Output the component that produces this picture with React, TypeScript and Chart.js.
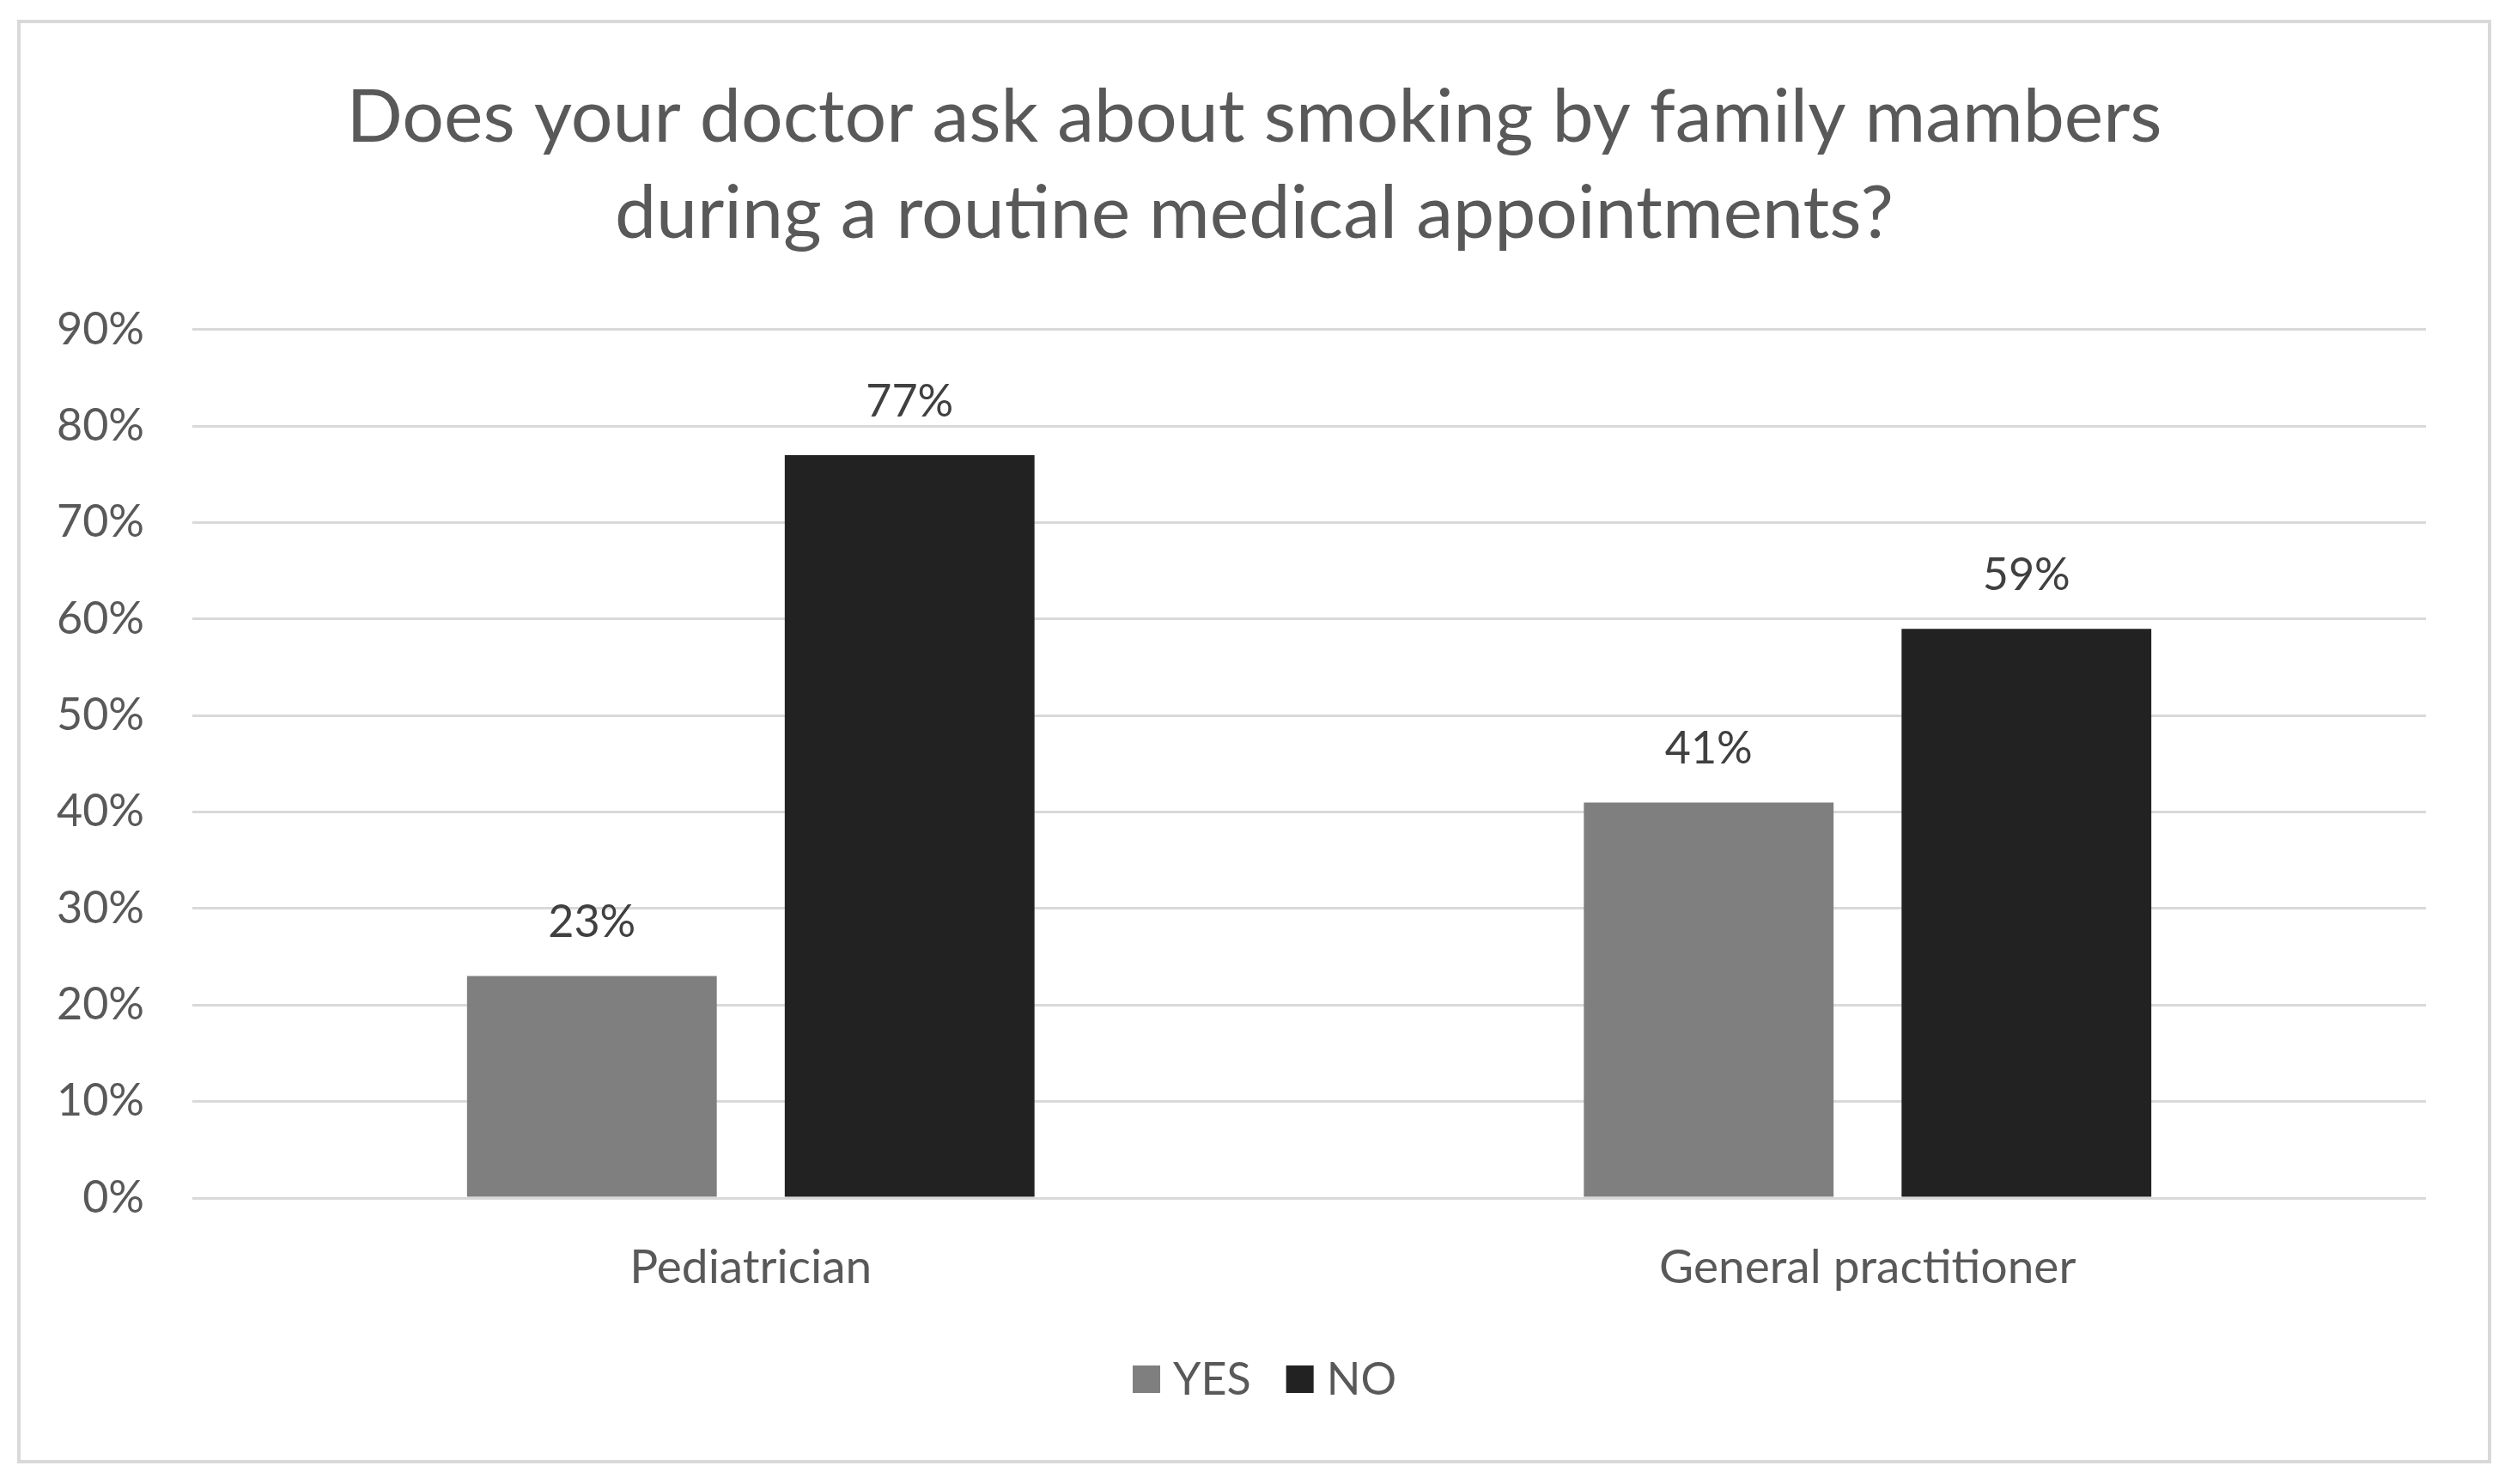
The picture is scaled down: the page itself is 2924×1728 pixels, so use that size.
import React, { useEffect, useRef } from "react";
import { Chart, registerables } from "chart.js";

Chart.register(...registerables);

const titleLines = [
  "Does your doctor ask about smoking by family mambers",
  "during a routine medical appointments?",
];
const categories = ["Pediatrician", "General practitioner"];
const seriesNames = ["YES", "NO"];
const yesValues = [23, 41];
const noValues = [77, 59];
const seriesColors = ["#7f7f7f", "#222222"];
const yMax = 90;
const yStep = 10;

const FONT = "Lato";
const TEXT_GREY = "#595959";

const dataLabelPlugin = {
  id: "barValueLabels",
  afterDatasetsDraw(chart: any) {
    const ctx = chart.ctx;
    ctx.save();
    ctx.font = `52px ${FONT}`;
    ctx.fillStyle = "#404040";
    ctx.textAlign = "center";
    ctx.textBaseline = "middle";
    chart.data.datasets.forEach((ds: any, i: number) => {
      const meta = chart.getDatasetMeta(i);
      meta.data.forEach((bar: any, j: number) => {
        ctx.fillText(`${ds.data[j]}%`, bar.x, bar.y - 62);
      });
    });
    ctx.restore();
  },
};

// Bottom legend drawn from the datasets (Excel-like spacing)
const legendPlugin = {
  id: "excelLegend",
  afterDraw(chart: any) {
    const ctx = chart.ctx;
    const box = 32;
    const gapBoxText = 15;
    const gapItems = 41;
    ctx.save();
    ctx.font = `52px ${FONT}`;
    ctx.textBaseline = "middle";
    ctx.textAlign = "left";
    const items = chart.data.datasets.map((ds: any) => ({
      text: ds.label,
      color: ds.backgroundColor,
      w: ctx.measureText(ds.label).width,
    }));
    let total = 0;
    items.forEach((it: any, i: number) => {
      total += box + gapBoxText + it.w + (i > 0 ? gapItems : 0);
    });
    const cy = chart.chartArea.bottom + 212;
    let x = chart.width / 2 + 12 - total / 2;
    items.forEach((it: any) => {
      ctx.fillStyle = it.color;
      ctx.fillRect(x, cy - box / 2 - 1, box, box);
      x += box + gapBoxText;
      ctx.fillStyle = TEXT_GREY;
      ctx.fillText(it.text, x, cy);
      x += it.w + gapItems;
    });
    ctx.restore();
  },
};

export default function App() {
  const canvasRef = useRef<HTMLCanvasElement | null>(null);

  useEffect(() => {
    if (!canvasRef.current) return;
    const chart = new Chart(canvasRef.current, {
      type: "bar",
      data: {
        labels: categories,
        datasets: [
          {
            label: seriesNames[0],
            data: yesValues,
            backgroundColor: seriesColors[0],
            borderWidth: 0,
            categoryPercentage: 0.569,
            barPercentage: 0.786,
          },
          {
            label: seriesNames[1],
            data: noValues,
            backgroundColor: seriesColors[1],
            borderWidth: 0,
            categoryPercentage: 0.569,
            barPercentage: 0.786,
          },
        ],
      },
      options: {
        animation: false,
        responsive: false,
        devicePixelRatio: 1,
        layout: { padding: { top: 0, left: 0, right: 0, bottom: 159 } },
        plugins: {
          title: {
            display: true,
            text: titleLines,
            color: TEXT_GREY,
            font: { family: FONT, size: 86, weight: "normal", lineHeight: 1.302 },
            padding: { top: 54, bottom: 79 },
          },
          legend: { display: false },
          tooltip: { enabled: false },
        },
        scales: {
          x: {
            grid: { display: false },
            border: { display: false },
            ticks: {
              color: TEXT_GREY,
              font: { family: FONT, size: 55 },
              padding: 40,
            },
            afterFit(scale: any) {
              scale.height = 146;
            },
          },
          y: {
            min: 0,
            max: yMax,
            grid: { color: "#d9d9d9", lineWidth: 3, drawTicks: false },
            border: { display: false },
            ticks: {
              stepSize: yStep,
              color: TEXT_GREY,
              font: { family: FONT, size: 52 },
              padding: 56,
              callback: (v: any) => `${v}%`,
            },
            afterFit(scale: any) {
              scale.width = 200;
            },
          },
          yRightSpacer: {
            position: "right",
            min: 0,
            max: yMax,
            grid: { display: false, drawTicks: false },
            border: { display: false },
            ticks: { display: false },
            afterFit(scale: any) {
              scale.width = 72;
            },
          },
        },
      },
      plugins: [dataLabelPlugin, legendPlugin],
    } as any);
    return () => chart.destroy();
  }, []);

  return (
    <div
      style={{
        position: "absolute",
        left: 0,
        top: 0,
        width: 2924,
        height: 1728,
        background: "#ffffff",
      }}
    >
      <div
        style={{
          position: "absolute",
          left: 20,
          top: 23,
          width: 2881,
          height: 1681,
          border: "4px solid #d9d9d9",
          boxSizing: "border-box",
        }}
      >
        <canvas
          ref={canvasRef}
          width={2873}
          height={1673}
          style={{ width: 2873, height: 1673, display: "block" }}
        />
      </div>
    </div>
  );
}
